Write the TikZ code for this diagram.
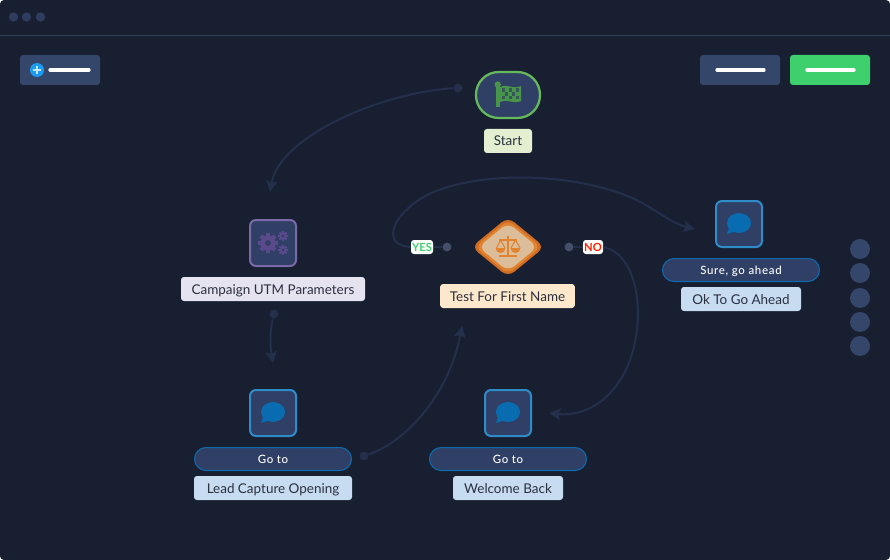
\documentclass[tikz,border=0pt]{standalone}
\usepackage{fontspec}
\setmainfont{Lato}
\newfontfamily\pillfont[LetterSpace=6]{Lato Medium}
\usetikzlibrary{arrows.meta,shapes.geometric}
\definecolor{bgc}{HTML}{181F31}
\definecolor{panel}{HTML}{344669}
\definecolor{nodefill}{HTML}{2F3F65}
\definecolor{linkc}{HTML}{232F4B}
\definecolor{rulec}{HTML}{333F5A}
\definecolor{topdot}{HTML}{2E3D5F}
\definecolor{greenb}{HTML}{3DD06C}
\definecolor{startg}{HTML}{66B85C}
\definecolor{flagg}{HTML}{47944A}
\definecolor{labg}{HTML}{E3EFD0}
\definecolor{purp}{HTML}{7B68A6}
\definecolor{purpi}{HTML}{5A4A8C}
\definecolor{labp}{HTML}{E6E3F0}
\definecolor{blueb}{HTML}{2F8CC8}
\definecolor{bluei}{HTML}{0A6CB0}
\definecolor{pillb}{HTML}{0F6AAE}
\definecolor{labb}{HTML}{C7DBF1}
\definecolor{labo}{HTML}{FDE8CB}
\definecolor{orangea}{HTML}{CF6C24}
\definecolor{orangeb}{HTML}{E2832F}
\definecolor{tan}{HTML}{DCBD9A}
\definecolor{yesdot}{HTML}{444F68}
\definecolor{inkc}{HTML}{2B3040}
\definecolor{plusc}{HTML}{1B9CF2}
\tikzset{
  x=0.75pt,y=-0.75pt,
  lab/.style={rounded corners=2.2pt,minimum height=18pt,inner sep=0pt,text=inkc,text height=9.5pt,text depth=2pt,font=\fontsize{10.1}{12}\selectfont},
  iconbox/.style={draw=#1,line width=1.5pt,fill=nodefill,rounded corners=4.5pt,minimum size=34.5pt,inner sep=0pt},
  pillnode/.style={draw=pillb,line width=0.8pt,fill=nodefill,rounded corners=8.6pt,minimum width=117.7pt,minimum height=17.2pt,inner sep=0pt,text=white,text height=8pt,text depth=2pt,font=\pillfont\fontsize{8.6}{10}\selectfont},
  btn/.style={rounded corners=2.2pt,minimum width=60pt,minimum height=22.5pt,inner sep=0pt,fill=#1},
  bar/.style={line width=2.4pt,white,line cap=round},
  link/.style={linkc,line width=1.5pt},
  linka/.style={link,-{Stealth[length=8.5pt,width=8.5pt,inset=1.5pt]}},
  pdot/.style={circle,fill=#1,minimum size=6.6pt,inner sep=0pt},
  tag/.style={rounded corners=2.2pt,fill=white,minimum height=10.5pt,inner sep=0pt,font=\fontsize{8.4}{10}\bfseries\selectfont},
  sdot/.style={circle,fill=panel,minimum size=15pt,inner sep=0pt},
  tdot/.style={circle,fill=topdot,minimum size=7pt,inner sep=0pt},
  diam/.style={diamond,fill=#1,rounded corners=6pt,inner sep=0pt}
}
\newcommand{\bubbleicon}[2]{%
  \begin{scope}[shift={(#1,#2)}]
    \fill[bluei] (0,-10) ellipse [x radius=9pt,y radius=7.5pt];
    \fill[bluei] (-12,1) -- (-9,-8) -- (0,-3) -- cycle;
  \end{scope}}
\newcommand{\gearicon}[4]{%
  \begin{scope}[shift={(#1,#2)}]
    \foreach \a in {0,45,...,315}{\fill[purpi,rotate=\a] (-#3*0.27,-#3*1.32) rectangle (#3*0.27,0);}
    \fill[purpi] (0,0) circle [radius=#3*0.75pt];
    \fill[nodefill] (0,0) circle [radius=#3*0.75pt*#4];
  \end{scope}}
\begin{document}
\begin{tikzpicture}
\useasboundingbox (0,0) rectangle (890,560);
\fill[white] (0,0) rectangle (890,560);
\fill[bgc,rounded corners=3pt] (0,0) rectangle (890,560);
% window chrome
\node[tdot] (w1) at (13.5,17) {};
\node[tdot] (w2) at (26.5,17) {};
\node[tdot] (w3) at (40.5,17) {};
\draw[rulec,line width=0.75pt] (0,35.5) -- (890,35.5);
% toolbar
\node[btn=panel] (add) at (60,70) {};
\node[circle,fill=plusc,minimum size=10.5pt,inner sep=0pt] (plus) at (37,70) {};
\draw[white!75!plusc,line width=1pt] (33,70) -- (41,70) (37,66) -- (37,74);
\draw[bar] (50,70) -- (89,70);
\node[btn=panel] (save) at (740,70) {};
\draw[bar] (717,70) -- (764,70);
\node[btn=greenb] (go) at (830,70) {};
\draw[bar] (807,70) -- (854,70);
% side dots
\node[sdot] (s1) at (860,249) {};
\node[sdot] (s2) at (860,273) {};
\node[sdot] (s3) at (860,298) {};
\node[sdot] (s4) at (860,322) {};
\node[sdot] (s5) at (860,346) {};
% anchor points
\node[pdot=linkc] (dstart) at (458,88) {};
\coordinate (tcamp) at (270,192);
\node[pdot=linkc] (dcamp) at (274,314) {};
\coordinate (tlead) at (273,363);
\node[pdot=linkc] (dlead) at (364,456) {};
\coordinate (ttest) at (462,326);
\coordinate (tok) at (695,229);
\coordinate (twel) at (549,413);
% connectors
\draw[linka] (dstart) .. controls (385,92) and (280,135) .. (tcamp);
\draw[linka] (dcamp) .. controls (270,330) and (270,345) .. (tlead);
\draw[linka] (dlead) .. controls (410,440) and (450,390) .. (ttest);
% start
\node[draw=startg,line width=1.7pt,fill=nodefill,rounded corners=17pt,minimum width=48pt,minimum height=34.5pt,inner sep=0pt] (start) at (508,95) {};
\fill[flagg] (496,85) rectangle (499.5,107);
\fill[flagg] (497.7,84.5) circle [radius=2.4pt];
\fill[flagg] (500,87) .. controls (506,83) and (513,90) .. (521,86) -- (521,101) .. controls (514,105) and (506,98) .. (500,102) -- cycle;
\foreach \i/\j in {0/0,2/0,4/0,1/1,3/1,0/2,2/2,4/2}{\fill[nodefill!70!flagg] (501.5+\i*3.5,88.5+\j*3.9) rectangle ++(3,3.2);}
\node[lab,fill=labg,minimum width=36pt] (startlab) at (508,141) {Start};
% campaign
\node[iconbox=purp] (camp) at (273,243) {};
\gearicon{268}{243}{7.6}{0.38}
\gearicon{283}{236}{3.8}{0.42}
\gearicon{283}{250}{3.8}{0.42}
\node[lab,fill=labp,minimum width=138pt] (camplab) at (273,289) {Campaign UTM Parameters};
% test
\node[diam=orangea,minimum width=55pt,minimum height=45pt] (test) at (508,247) {};
\node[diam=orangeb,minimum width=50pt,minimum height=41pt] (testm) at (508,247) {};
\node[diam=tan,minimum width=44.5pt,minimum height=36.5pt] (testi) at (508,247) {};
\draw[orangeb,line width=1.5pt] (499,239.5) -- (517,239.5) (508,236) -- (508,255) (499,256) -- (517,256);
\draw[orangeb,line width=0.8pt] (500.5,240) -- (496.5,248) (500.5,240) -- (505,248) (515.5,240) -- (511,248) (515.5,240) -- (520,248);
\fill[orangeb] (495.5,248) arc [start angle=180,end angle=360,radius=3.75pt] -- cycle;
\fill[orangeb] (510.5,248) arc [start angle=180,end angle=360,radius=3.75pt] -- cycle;
\node[lab,fill=labo,minimum width=101pt] (testlab) at (507.5,296) {Test For First Name};
\node[pdot=yesdot] (dyes) at (447,247) {};
\node[pdot=yesdot] (dno) at (569,247) {};
\draw[link] (dyes) -- (433,247);
\draw[link] (dno) -- (583,247);
\node[tag,text=greenb,minimum width=16.5pt] (yes) at (422,247) {YES};
\node[tag,text=red!75!orange,minimum width=15pt] (no) at (593,247) {NO};
\draw[linka] (yes.west) .. controls (387,246) and (387,225) .. (412,205) .. controls (450,172) and (560,168) .. (630,197) .. controls (655,208) and (670,223) .. (tok);
\draw[linka] (no.east) .. controls (640,255) and (645,320) .. (630,360) .. controls (615,400) and (585,417) .. (twel);
% ok
\node[iconbox=blueb] (ok) at (739,224) {};
\bubbleicon{739}{233}
\node[pillnode] (okpill) at (741,270) {Sure, go ahead};
\node[lab,fill=labb,minimum width=90pt] (oklab) at (741,299) {Ok To Go Ahead};
% lead
\node[iconbox=blueb] (lead) at (273,413) {};
\bubbleicon{273}{422}
\node[pillnode] (leadpill) at (273,459) {Go to};
\node[lab,fill=labb,minimum width=118.5pt] (leadlab) at (273,488) {Lead Capture Opening};
% welcome
\node[iconbox=blueb] (wel) at (508,413) {};
\bubbleicon{508}{422}
\node[pillnode] (welpill) at (508,459) {Go to};
\node[lab,fill=labb,minimum width=82.5pt] (wellab) at (508,488) {Welcome Back};
\end{tikzpicture}
\end{document}
